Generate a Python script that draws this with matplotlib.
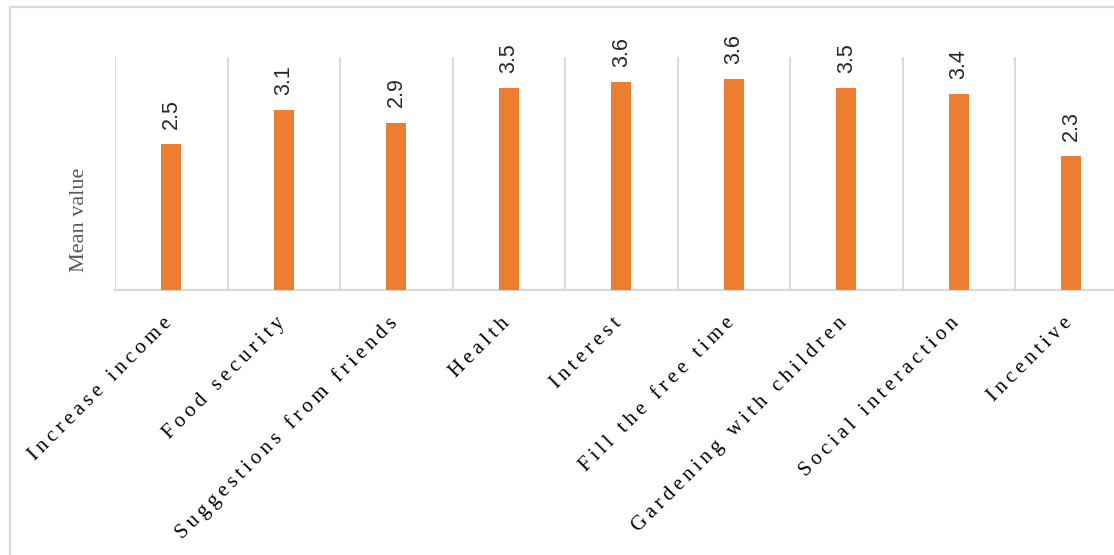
import matplotlib
matplotlib.use("Agg")
import matplotlib.pyplot as plt
import matplotlib.transforms as mtransforms
from matplotlib.patches import Rectangle
import numpy as np

# ===================================================
# Data
# ===================================================

categories = [
    "Increase income", "Food security", "Suggestions from friends", "Health",
    "Interest", "Fill the free time", "Gardening with children",
    "Social interaction", "Incentive",
]
mean_values = [2.50, 3.09, 2.87, 3.46, 3.57, 3.62, 3.46, 3.36, 2.30]
value_labels = ["2.5", "3.1", "2.9", "3.5", "3.6", "3.6", "3.5", "3.4", "2.3"]

BAR_COLOR = "#ED7D31"
GRID_COLOR = "#D9D9D9"
SPACER = "\u2009"  # thin space -> letter spacing in the category labels


def spaced(text):
    return SPACER.join(text)


def main():
    W, H, DPI = 1114, 555, 100
    fig = plt.figure(figsize=(W / DPI, H / DPI), dpi=DPI)

    # axes box in pixels (left, top, category width, baseline)
    left_px, top_px, base_px, cat_px = 115, 57, 289.5, 112.5
    n = len(categories)
    ax = fig.add_axes([
        left_px / W, (H - base_px) / H,
        n * cat_px / W, (base_px - top_px) / H,
    ])

    x = np.arange(n)
    ax.bar(x, mean_values, width=20 / cat_px, color=BAR_COLOR, zorder=3)

    ax.set_xlim(-0.5, n - 0.5)
    ax.set_ylim(0, 4)

    # vertical separators between categories
    ax.set_xticks(np.arange(n + 1) - 0.5, minor=True)
    ax.set_xticks(x)
    ax.set_xticklabels([])
    ax.xaxis.grid(True, which="minor", color=GRID_COLOR, linewidth=1.3)
    ax.xaxis.grid(False, which="major")
    ax.tick_params(axis="both", which="both", length=0)
    ax.set_yticks([])

    for side in ["top", "right", "left"]:
        ax.spines[side].set_visible(False)
    ax.spines["bottom"].set_color(GRID_COLOR)
    ax.spines["bottom"].set_linewidth(1.6)

    # value labels above bars
    for xi, v, lab in zip(x, mean_values, value_labels):
        ax.annotate(
            lab, (xi, v), xytext=(0, 11), textcoords="offset points",
            rotation=90, ha="center", va="bottom",
            fontsize=15.5, color="#262626", family="Liberation Sans",
        )

    # rotated, letter-spaced category labels
    offset = mtransforms.ScaledTranslation(-2 / DPI, -31 / DPI, fig.dpi_scale_trans)
    trans = ax.get_xaxis_transform() + offset
    for xi, cat in zip(x, categories):
        ax.text(
            xi, 0, spaced(cat), transform=trans,
            rotation=45, rotation_mode="anchor", ha="right", va="center",
            fontsize=15, family="Liberation Serif", color="black",
        )

    # y axis title
    ax.set_ylabel("Mean value", fontsize=16, family="Liberation Serif", color="#595959")
    ax.yaxis.set_label_coords(-0.026, 0.30)

    # chart-area border (runs off the right and bottom edges)
    fig.patches.append(Rectangle(
        (10 / W, -0.1), 1.2, 1.1 - 6.5 / H,
        transform=fig.transFigure, fill=False,
        edgecolor=GRID_COLOR, linewidth=1.6,
    ))

    fig.savefig("out.png", dpi=DPI)
    plt.close(fig)


if __name__ == "__main__":
    main()
